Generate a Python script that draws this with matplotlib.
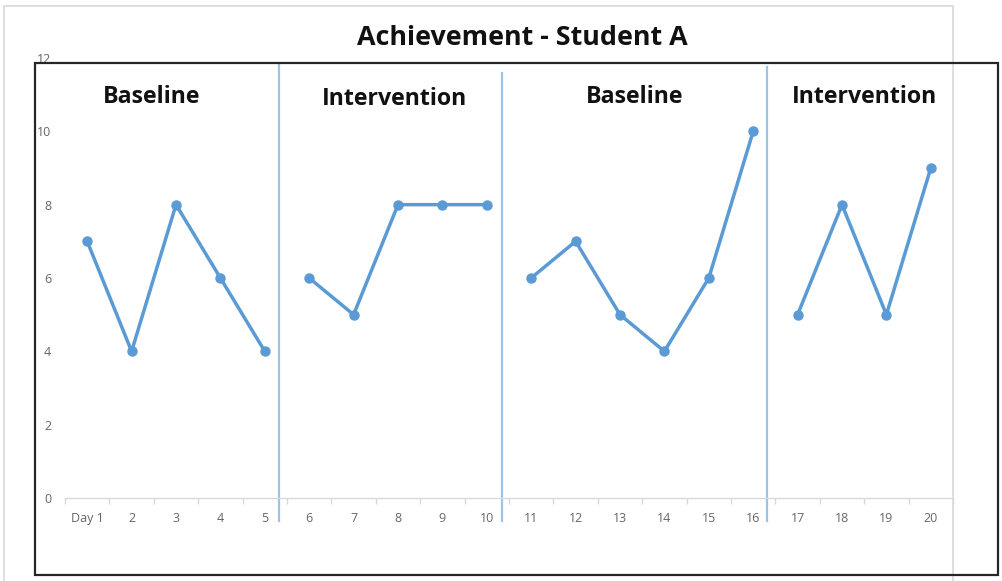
import matplotlib.pyplot as plt
from matplotlib.patches import Rectangle

days = ["Day 1"] + [str(i) for i in range(2, 21)]
scores = [7, 4, 8, 6, 4, 6, 5, 8, 8, 8, 6, 7, 5, 4, 6, 10, 5, 8, 5, 9]
phase_ends = [5, 10, 16, 20]
phase_names = ["Baseline", "Intervention", "Baseline", "Intervention"]
separators = [5.33, 10.34, 16.31]
yticks = [0, 2, 4, 6, 8, 10, 12]

LINE = "#5B9BD5"
SEP = "#9DC3E6"
TICK = "#666666"

plt.rcParams["font.family"] = ["Open Sans", "DejaVu Sans"]

fig = plt.figure(figsize=(10.02, 5.81), dpi=100)
ax = fig.add_axes([65 / 1002, 1 - 498 / 581, (953 - 65) / 1002, (498 - 58) / 581])

x = list(range(1, len(days) + 1))
start = 0
for end in phase_ends:
    ax.plot(x[start:end], scores[start:end], color=LINE, lw=2.5,
            marker="o", markersize=6.5, clip_on=False, zorder=3)
    start = end

# phase separator lines
for sx, top in zip(separators, [11.8, 11.6, 11.75]):
    ax.plot([sx, sx], [-0.62, top], color=SEP, lw=1.6, clip_on=False, zorder=2)

# phase labels (pixel centres)
label_px = [152, 395, 635, 864]
label_y = [97, 99, 97, 97]
for px, py, name in zip(label_px, label_y, phase_names):
    fig.text(px / 1002, 1 - py / 581, name, ha="center", va="center",
             fontsize=16.7, fontweight="bold", color="#111111")

ax.set_xlim(0.5, 20.5)
ax.set_ylim(0, 12)
ax.set_yticks(yticks)
ax.set_yticklabels([str(v) for v in yticks])
ax.set_xticks(x)
ax.set_xticklabels(days)
ax.set_xticks([i + 0.5 for i in range(0, 21)], minor=True)

for side in ["top", "right", "left"]:
    ax.spines[side].set_visible(False)
ax.spines["bottom"].set_color("#D9D9D9")
ax.spines["bottom"].set_linewidth(1.0)

ax.tick_params(axis="y", length=0, pad=10, labelsize=9, labelcolor=TICK)
ax.tick_params(axis="x", which="major", length=0, pad=10, labelsize=9, labelcolor=TICK)
ax.tick_params(axis="x", which="minor", length=4, color="#D9D9D9", width=1)

fig.text(522 / 1002, 1 - 38 / 581, "Achievement - Student A", ha="center", va="center",
         fontsize=19.4, fontweight="bold", color="#111111")

# outer chart border and overlaid black frame
fig.patches.append(Rectangle((4 / 1002, -0.05), (953 - 4) / 1002, 1.05 - 6 / 581,
                             transform=fig.transFigure, fill=False,
                             edgecolor="#D9D9D9", lw=1.2, zorder=0))
fig.patches.append(Rectangle((35 / 1002, 1 - 575 / 581), (998 - 35) / 1002, (575 - 63) / 581,
                             transform=fig.transFigure, fill=False,
                             edgecolor="#262626", lw=1.6, zorder=5))

fig.savefig("out.png", dpi=100)
